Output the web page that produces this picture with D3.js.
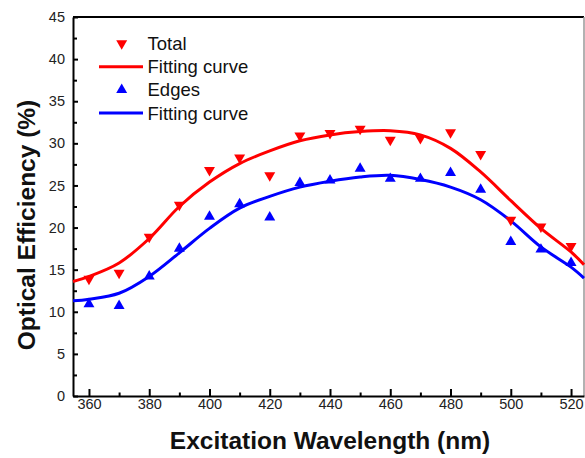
<!DOCTYPE html>
<html>
  <head>
    <meta charset="utf-8">
    <title>Optical Efficiency</title>
  </head>
  <style>
    body{
      margin:0;
      background-color:#fff;
      font-family: "Liberation Sans", Arial, sans-serif;
    }
    .axis text{
      font-size:14.5px;
      fill:#222;
      font-family: "Liberation Sans", Arial, sans-serif;
    }
    .axis line{
      stroke:#000;
      stroke-width:2
    }
    .axis .domain{
      stroke:#000;
      stroke-width:2
    }
    .minor .domain{
      display:none
    }
    .title{
      font-size:24.5px;
      font-weight:bold;
      fill:#111
    }
    .legend text{
      font-size:18.5px;
      fill:#111
    }
  </style>
  <script src="https://d3js.org/d3.v7.min.js"></script>
  <body>
    <script>
    // measured points
    const wavelengths = [360,370,380,390,400,410,420,430,440,450,460,470,480,490,500,510,520]
    const totalVals = [13.9,14.6,18.9,22.7,26.8,28.3,26.2,30.9,31.2,31.7,30.4,30.6,31.3,28.7,20.9,20.1,17.8]
    const edgesVals = [10.9,10.7,14.2,17.5,21.3,22.8,21.2,25.3,25.6,27.0,25.8,25.8,26.5,24.5,18.3,17.4,15.8]

    // fitting curves
    const fitWavelengths = [354.7,360,370,380,390,400,410,420,430,440,450,460,470,480,490,500,510,520,524.3]
    const totalFit = [13.6,14.2,15.8,18.7,22.5,25.4,27.6,29.1,30.3,31.0,31.4,31.5,31.0,29.4,26.6,23.2,19.9,17.1,15.6]
    const edgesFit = [11.3,11.5,12.2,14.2,17.0,19.9,22.3,23.7,24.8,25.5,26.0,26.2,25.7,24.8,23.3,20.8,17.7,15.3,14.0]

    const xTicks = [360,380,400,420,440,460,480,500,520]
    const xMinor = [370,390,410,430,450,470,490,510]
    const yTicks = [0,5,10,15,20,25,30,35,40,45]
    const yMinor = [2.5,7.5,12.5,17.5,22.5,27.5,32.5,37.5,42.5]

    const legendLabels = ["Total","Fitting curve","Edges","Fitting curve"]

    var width = 585, height = 458
    var plot = {left:73, right:584, top:17, bottom:396}
    var red = "#ff0000", blue = "#0000ff"

    var svg = d3.select("body").append("svg")
                .attr("width", width)
                .attr("height", height)

    var x = d3.scaleLinear()
              .domain([354.7, 524.3])
              .range([plot.left, plot.right])
    var y = d3.scaleLinear()
              .domain([0, 45])
              .range([plot.bottom, plot.top])

    // frame: top and right
    svg.append("line")
       .attr("x1", plot.left).attr("x2", plot.right)
       .attr("y1", plot.top).attr("y2", plot.top)
       .attr("stroke", "#000").attr("stroke-width", 2)
    svg.append("line")
       .attr("x1", plot.right).attr("x2", plot.right)
       .attr("y1", plot.top).attr("y2", plot.bottom)
       .attr("stroke", "#999").attr("stroke-width", 1.5)

    // x axis
    svg.append("g")
       .attr("class", "axis minor")
       .attr("transform", "translate(0," + plot.bottom + ")")
       .call(d3.axisBottom(x).tickValues(xMinor).tickSize(-3.5).tickFormat(""))
    svg.append("g")
       .attr("class", "axis")
       .attr("transform", "translate(0," + plot.bottom + ")")
       .call(d3.axisBottom(x).tickValues(xTicks).tickSize(-7).tickSizeOuter(0).tickPadding(3).tickFormat(d3.format("d")))

    // y axis
    svg.append("g")
       .attr("class", "axis minor")
       .attr("transform", "translate(" + plot.left + ",0)")
       .call(d3.axisLeft(y).tickValues(yMinor).tickSize(-4).tickFormat(""))
    svg.append("g")
       .attr("class", "axis")
       .attr("transform", "translate(" + plot.left + ",0)")
       .call(d3.axisLeft(y).tickValues(yTicks).tickSize(-5).tickSizeOuter(0).tickPadding(8).tickFormat(d3.format("d")))

    // titles
    svg.append("text")
       .attr("class", "title")
       .attr("x", 330)
       .attr("y", 449)
       .attr("text-anchor", "middle")
       .text("Excitation Wavelength (nm)")
    svg.append("text")
       .attr("class", "title")
       .attr("transform", "translate(35,225) rotate(-90)")
       .attr("text-anchor", "middle")
       .text("Optical Efficiency (%)")

    // curves
    var line = d3.line()
                 .curve(d3.curveCatmullRom)
                 .x(function(d){ return x(d[0]) })
                 .y(function(d){ return y(d[1]) })

    var fits = [
      {vals: totalFit, color: red},
      {vals: edgesFit, color: blue}
    ]
    svg.append("g").selectAll("path")
       .data(fits)
       .enter()
       .append("path")
       .attr("d", function(d){
         return line(fitWavelengths.map(function(w, i){ return [w, d.vals[i]] }))
       })
       .attr("fill", "none")
       .attr("stroke", function(d){ return d.color })
       .attr("stroke-width", 3)

    // markers
    var tri = d3.symbol().type(d3.symbolTriangle).size(52)

    svg.append("g").selectAll("path")
       .data(wavelengths.map(function(w, i){ return [w, totalVals[i]] }))
       .enter()
       .append("path")
       .attr("d", tri)
       .attr("fill", red)
       .attr("transform", function(d){
         return "translate(" + x(d[0]) + "," + y(d[1]) + ") rotate(180)"
       })

    svg.append("g").selectAll("path")
       .data(wavelengths.map(function(w, i){ return [w, edgesVals[i]] }))
       .enter()
       .append("path")
       .attr("d", tri)
       .attr("fill", blue)
       .attr("transform", function(d){
         return "translate(" + x(d[0]) + "," + y(d[1]) + ")"
       })

    // legend
    var legend = svg.append("g").attr("class", "legend")
    var rowY = function(i){ return 43.5 + i * 23.2 }
    var legendKinds = [
      {kind: "down", color: red},
      {kind: "line", color: red},
      {kind: "up", color: blue},
      {kind: "line", color: blue}
    ]
    legendKinds.forEach(function(k, i){
      if (k.kind == "line") {
        legend.append("line")
              .attr("x1", 99).attr("x2", 143)
              .attr("y1", rowY(i)).attr("y2", rowY(i))
              .attr("stroke", k.color)
              .attr("stroke-width", 3)
      } else {
        legend.append("path")
              .attr("d", tri)
              .attr("fill", k.color)
              .attr("transform", "translate(121.7," + rowY(i) + ")" + (k.kind == "down" ? " rotate(180)" : ""))
      }
      legend.append("text")
            .attr("x", 147.5)
            .attr("y", rowY(i))
            .attr("dy", "0.35em")
            .text(legendLabels[i])
    })
    </script>
  </body>
</html>
